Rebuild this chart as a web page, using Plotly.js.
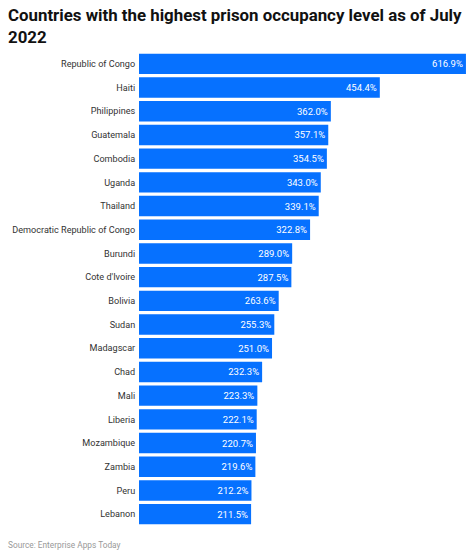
<!DOCTYPE html>
<html><head><meta charset="utf-8">
<script src="https://cdn.plot.ly/plotly-3.0.1.min.js"></script>
<style>html,body{margin:0;padding:0;background:#fff}</style></head>
<body><div id="c" style="width:474px;height:557px"></div>
<script>
const countries=["Republic of Congo","Haiti","Philippines","Guatemala","Combodia","Uganda","Thailand","Democratic Republic of Congo","Burundi","Cote d'Ivoire","Bolivia","Sudan","Madagscar","Chad","Mali","Liberia","Mozambique","Zambia","Peru","Lebanon"];
const occupancy=[616.9,454.4,362.0,357.1,354.5,343.0,339.1,322.8,289.0,287.5,263.6,255.3,251.0,232.3,223.3,222.1,220.7,219.6,212.2,211.5];
const labels=occupancy.map(v=>v.toFixed(1)+"%");
const font="Roboto, Arial, sans-serif";
Plotly.newPlot("c",[{type:"bar",orientation:"h",y:countries,x:occupancy,text:labels,textposition:"inside",insidetextanchor:"end",textangle:0,
 insidetextfont:{family:font,size:9.5,color:"#fff"},marker:{color:"#0671ff"},width:0.86,hoverinfo:"skip"}],
{width:474,height:557,margin:{l:139,r:8.3,t:51.65,b:31.25},paper_bgcolor:"#fff",plot_bgcolor:"#fff",showlegend:false,
 title:{text:"Countries with the highest prison occupancy level as of July<br>2022",x:0,xanchor:"left",xref:"container",y:0.966,yanchor:"top",pad:{l:8,t:2},font:{family:font,size:16.85,color:"#111",weight:700}},
 xaxis:{visible:false,range:[0,617]},
 yaxis:{autorange:"reversed",type:"category",ticks:"outside",tickcolor:"rgba(0,0,0,0)",ticklen:1,tickwidth:0,showline:false,showgrid:false,tickfont:{family:font,size:9.1,color:"#333"},automargin:false},
 annotations:[{text:"Source: Enterprise Apps Today",xref:"paper",yref:"paper",x:-0.4006,xanchor:"left",xshift:-2,y:0,yshift:-12,yanchor:"top",showarrow:false,font:{family:font,size:8.3,color:"#999"}}]
},{displayModeBar:false,staticPlot:true});
</script></body></html>
